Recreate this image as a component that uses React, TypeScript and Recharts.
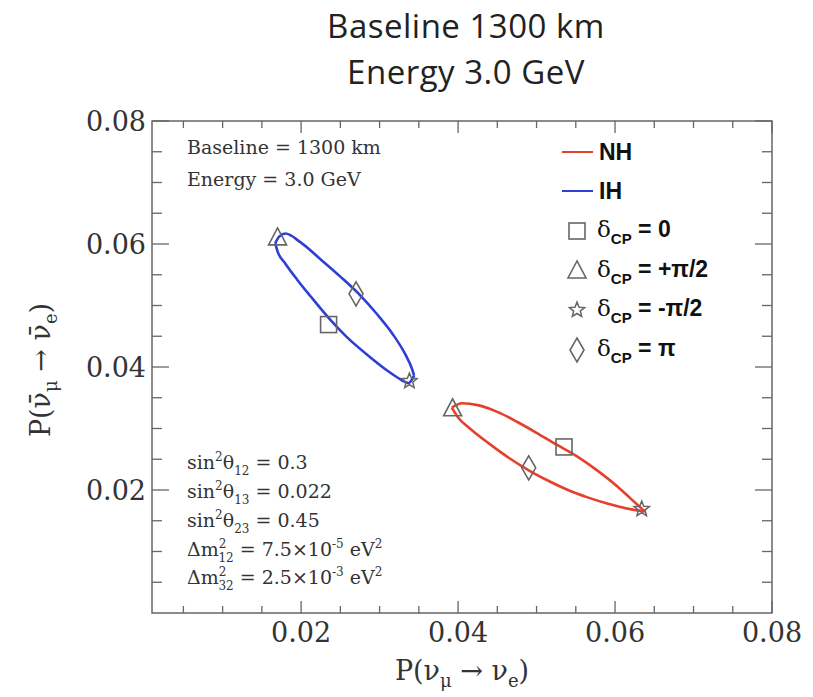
import React from 'react';
import {
  ComposedChart, Line, Scatter, XAxis, YAxis, ReferenceLine, ReferenceArea,
} from 'recharts';

// axis ticks
const xTicks = [0.02, 0.04, 0.06, 0.08];
const yTicks = [0.02, 0.04, 0.06, 0.08];
const minorTicks = [0.005, 0.01, 0.015, 0.025, 0.03, 0.035, 0.045, 0.05, 0.055, 0.065, 0.07, 0.075];

// δCP ellipse for inverted hierarchy (left tip -> right tip)
const ihUpper = [
  { x: 0.0167, y: 0.0601 }, { x: 0.0172, y: 0.0612 }, { x: 0.0180, y: 0.0617 },
  { x: 0.0199, y: 0.0603 }, { x: 0.0224, y: 0.0576 }, { x: 0.0250, y: 0.0547 },
  { x: 0.0275, y: 0.0517 }, { x: 0.0296, y: 0.0487 }, { x: 0.0317, y: 0.0453 },
  { x: 0.0333, y: 0.0420 }, { x: 0.0341, y: 0.0398 }, { x: 0.0344, y: 0.0386 },
];
const ihLower = [
  { x: 0.0167, y: 0.0601 }, { x: 0.0170, y: 0.0588 }, { x: 0.0180, y: 0.0568 },
  { x: 0.0195, y: 0.0542 }, { x: 0.0212, y: 0.0515 }, { x: 0.0237, y: 0.0477 },
  { x: 0.0258, y: 0.0449 }, { x: 0.0288, y: 0.0416 }, { x: 0.0310, y: 0.0394 },
  { x: 0.0325, y: 0.0381 }, { x: 0.0337, y: 0.0374 }, { x: 0.0344, y: 0.0386 },
];

// δCP ellipse for normal hierarchy
const nhUpper = [
  { x: 0.0392, y: 0.0334 }, { x: 0.0405, y: 0.0341 }, { x: 0.0425, y: 0.0338 },
  { x: 0.0450, y: 0.0327 }, { x: 0.0475, y: 0.0311 }, { x: 0.0500, y: 0.0293 },
  { x: 0.0525, y: 0.0274 }, { x: 0.0550, y: 0.0256 }, { x: 0.0575, y: 0.0234 },
  { x: 0.0600, y: 0.0209 }, { x: 0.0620, y: 0.0186 }, { x: 0.0638, y: 0.0165 },
];
const nhLower = [
  { x: 0.0392, y: 0.0334 }, { x: 0.0400, y: 0.0318 }, { x: 0.0415, y: 0.0300 },
  { x: 0.0440, y: 0.0275 }, { x: 0.0465, y: 0.0252 }, { x: 0.0490, y: 0.0232 },
  { x: 0.0515, y: 0.0215 }, { x: 0.0540, y: 0.0200 }, { x: 0.0565, y: 0.0188 },
  { x: 0.0590, y: 0.0178 }, { x: 0.0615, y: 0.0170 }, { x: 0.0638, y: 0.0165 },
];

// marked δCP values: [IH, NH]
const dcpZero = [{ x: 0.0235, y: 0.0469 }, { x: 0.0535, y: 0.0270 }];
const dcpPlusHalfPi = [{ x: 0.0170, y: 0.0610 }, { x: 0.0393, y: 0.0332 }];
const dcpMinusHalfPi = [{ x: 0.0338, y: 0.0377 }, { x: 0.0634, y: 0.0169 }];
const dcpPi = [{ x: 0.0270, y: 0.0519 }, { x: 0.0490, y: 0.0236 }];

const X_MIN = 0.001;
const RED = '#e5402e';
const BLUE = '#2f3fd4';
const FRAME = '#666';
const MARK = '#666';
const SERIF = '"DejaVu Serif", serif';
const SANS = '"Liberation Sans", Arial, sans-serif';

// tick lengths in data units
const TX_MAJOR = 0.00195, TX_MINOR = 0.00114; // vertical ticks on x axes
const TY_MAJOR = 0.00217, TY_MINOR = 0.00127; // horizontal ticks on y axes

const SquareMark = ({ cx, cy }: any) => (
  <rect x={cx - 8} y={cy - 8} width={16} height={16} fill="none" stroke={MARK} strokeWidth={1.6} />
);
const TriangleMark = ({ cx, cy }: any) => (
  <polygon points={`${cx},${cy - 10} ${cx - 9},${cy + 7} ${cx + 9},${cy + 7}`} fill="none" stroke={MARK} strokeWidth={1.6} />
);
const starPoints = (cx: number, cy: number, ro: number, ri: number) => {
  const pts: string[] = [];
  for (let i = 0; i < 10; i++) {
    const r = i % 2 === 0 ? ro : ri;
    const a = -Math.PI / 2 + (i * Math.PI) / 5;
    pts.push(`${cx + r * Math.cos(a)},${cy + r * Math.sin(a)}`);
  }
  return pts.join(' ');
};
const StarMark = ({ cx, cy }: any) => (
  <polygon points={starPoints(cx, cy, 8, 3.5)} fill="none" stroke={MARK} strokeWidth={1.5} />
);
const DiamondMark = ({ cx, cy }: any) => (
  <polygon points={`${cx},${cy - 12} ${cx + 7},${cy} ${cx},${cy + 12} ${cx - 7},${cy}`} fill="none" stroke={MARK} strokeWidth={1.6} />
);

const tickStyle = { fontFamily: SERIF, fontSize: 27, fill: '#333' };

const legendRows = [
  { y: 152, kind: 'line', color: RED, label: 'NH' },
  { y: 191, kind: 'line', color: BLUE, label: 'IH' },
  { y: 231, kind: 'square', label: '= 0' },
  { y: 271, kind: 'triangle', label: '= +π/2' },
  { y: 310, kind: 'star', label: '= -π/2' },
  { y: 350, kind: 'diamond', label: '=  π' },
];

const Overlay = () => (
  <svg width={813} height={697} style={{ position: 'absolute', left: 0, top: 0, pointerEvents: 'none' }}>
    <g fontFamily='"Open Sans", Lato, sans-serif' fontSize={33} letterSpacing={0.5} fill="#222" textAnchor="middle">
      <text x={466} y={38}>Baseline 1300 km</text>
      <text x={466} y={84}>Energy 3.0 GeV</text>
    </g>

    <g fontFamily={SERIF} fontSize={19} fill="#333">
      <text x={187} y={154}>Baseline = 1300 km</text>
      <text x={187} y={186}>Energy = 3.0 GeV</text>

      <text x={187} y={469}>sin<tspan fontSize={12} dy={-8}>2</tspan><tspan dy={8}>θ</tspan><tspan fontSize={12} dy={6}>12</tspan><tspan dy={-6}> = 0.3</tspan></text>
      <text x={187} y={498}>sin<tspan fontSize={12} dy={-8}>2</tspan><tspan dy={8}>θ</tspan><tspan fontSize={12} dy={6}>13</tspan><tspan dy={-6}> = 0.022</tspan></text>
      <text x={187} y={527}>sin<tspan fontSize={12} dy={-8}>2</tspan><tspan dy={8}>θ</tspan><tspan fontSize={12} dy={6}>23</tspan><tspan dy={-6}> = 0.45</tspan></text>
      <text x={187} y={556}>Δm<tspan fontSize={12} dy={-8}>2</tspan><tspan fontSize={12} dx={-8} dy={14}>12</tspan><tspan dy={-6}> = 7.5×10</tspan><tspan fontSize={12} dy={-8}>-5</tspan><tspan dy={8}> eV</tspan><tspan fontSize={12} dy={-8}>2</tspan></text>
      <text x={187} y={584}>Δm<tspan fontSize={12} dy={-8}>2</tspan><tspan fontSize={12} dx={-8} dy={14}>32</tspan><tspan dy={-6}> = 2.5×10</tspan><tspan fontSize={12} dy={-8}>-3</tspan><tspan dy={8}> eV</tspan><tspan fontSize={12} dy={-8}>2</tspan></text>
    </g>

    {legendRows.map(r => (
      <g key={r.label}>
        {r.kind === 'line' && <line x1={562} x2={593} y1={r.y} y2={r.y} stroke={r.color} strokeWidth={2} />}
        {r.kind === 'square' && <SquareMark cx={577} cy={r.y} />}
        {r.kind === 'triangle' && <TriangleMark cx={577} cy={r.y} />}
        {r.kind === 'star' && <StarMark cx={577} cy={r.y} />}
        {r.kind === 'diamond' && <DiamondMark cx={577} cy={r.y} />}
        {r.kind === 'line' ? (
          <text x={599} y={r.y + 8} fontFamily={SANS} fontWeight="bold" fontSize={23} fill="#111">{r.label}</text>
        ) : (
          <text x={597} y={r.y + 6} fontSize={23} fill="#111">
            <tspan fontFamily={SERIF}>δ</tspan>
            <tspan fontFamily={SANS} fontWeight="bold" fontSize={15} dy={7}>CP</tspan>
            <tspan fontFamily={SANS} fontWeight="bold" dy={-7}> {r.label}</tspan>
          </text>
        )}
      </g>
    ))}

    <text x={462} y={680} textAnchor="middle" fontFamily={SERIF} fontSize={27} fill="#333">
      P(ν<tspan fontSize={18} dy={7}>μ</tspan><tspan dy={-7}> → ν</tspan><tspan fontSize={18} dy={7}>e</tspan><tspan dy={-7}>)</tspan>
    </text>
    <text x={0} y={0} transform="translate(50,370) rotate(-90)" textAnchor="middle" fontFamily={SERIF} fontSize={27} fill="#333">
      P(ν̄<tspan fontSize={18} dy={7}>μ</tspan><tspan dy={-7}> → ν̄</tspan><tspan fontSize={18} dy={7}>e</tspan><tspan dy={-7}>)</tspan>
    </text>
  </svg>
);

const curveProps = {
  dataKey: 'y', type: 'monotone' as const, strokeWidth: 2.6, dot: false, activeDot: false, isAnimationActive: false,
};

const App = () => {
  const allTicks = [...minorTicks, ...xTicks];
  const isMajor = (t: number) => xTicks.includes(t);
  return (
    <div style={{ position: 'absolute', left: 0, top: 0, width: 813, height: 697, background: '#fff' }}>
      <ComposedChart width={813} height={697} margin={{ top: 121, right: 41, bottom: 0, left: 2 }}>
        <XAxis
          type="number" dataKey="x" domain={[X_MIN, 0.08]} ticks={xTicks} allowDataOverflow
          tickFormatter={(v: number) => v.toFixed(2)} tick={tickStyle}
          axisLine={false} tickLine={false} tickSize={0} tickMargin={10} height={84}
        />
        <YAxis
          type="number" dataKey="y" domain={[0, 0.08]} ticks={yTicks} allowDataOverflow
          tickFormatter={(v: number) => v.toFixed(2)} tick={tickStyle}
          axisLine={false} tickLine={false} tickSize={0} tickMargin={6} width={150}
        />
        <ReferenceArea x1={X_MIN} x2={0.08} y1={0} y2={0.08} fill="none" fillOpacity={0} stroke={FRAME} strokeWidth={1.5} ifOverflow="visible" />
        {allTicks.map(t => (
          <ReferenceLine key={'b' + t} segment={[{ x: t, y: 0 }, { x: t, y: isMajor(t) ? TX_MAJOR : TX_MINOR }]} stroke={FRAME} strokeWidth={1.3} ifOverflow="visible" />
        ))}
        {allTicks.map(t => (
          <ReferenceLine key={'t' + t} segment={[{ x: t, y: 0.08 }, { x: t, y: 0.08 - (isMajor(t) ? TX_MAJOR : TX_MINOR) }]} stroke={FRAME} strokeWidth={1.3} ifOverflow="visible" />
        ))}
        {allTicks.map(t => (
          <ReferenceLine key={'l' + t} segment={[{ x: X_MIN, y: t }, { x: X_MIN + (isMajor(t) ? TY_MAJOR : TY_MINOR), y: t }]} stroke={FRAME} strokeWidth={1.3} ifOverflow="visible" />
        ))}
        {allTicks.map(t => (
          <ReferenceLine key={'r' + t} segment={[{ x: 0.08, y: t }, { x: 0.08 - (isMajor(t) ? TY_MAJOR : TY_MINOR), y: t }]} stroke={FRAME} strokeWidth={1.3} ifOverflow="visible" />
        ))}
        <Line data={ihUpper} stroke={BLUE} {...curveProps} />
        <Line data={ihLower} stroke={BLUE} {...curveProps} />
        <Line data={nhUpper} stroke={RED} {...curveProps} />
        <Line data={nhLower} stroke={RED} {...curveProps} />
        <Scatter data={dcpZero} shape={SquareMark} isAnimationActive={false} />
        <Scatter data={dcpPlusHalfPi} shape={TriangleMark} isAnimationActive={false} />
        <Scatter data={dcpMinusHalfPi} shape={StarMark} isAnimationActive={false} />
        <Scatter data={dcpPi} shape={DiamondMark} isAnimationActive={false} />
      </ComposedChart>
      <Overlay />
    </div>
  );
};

export default App;
